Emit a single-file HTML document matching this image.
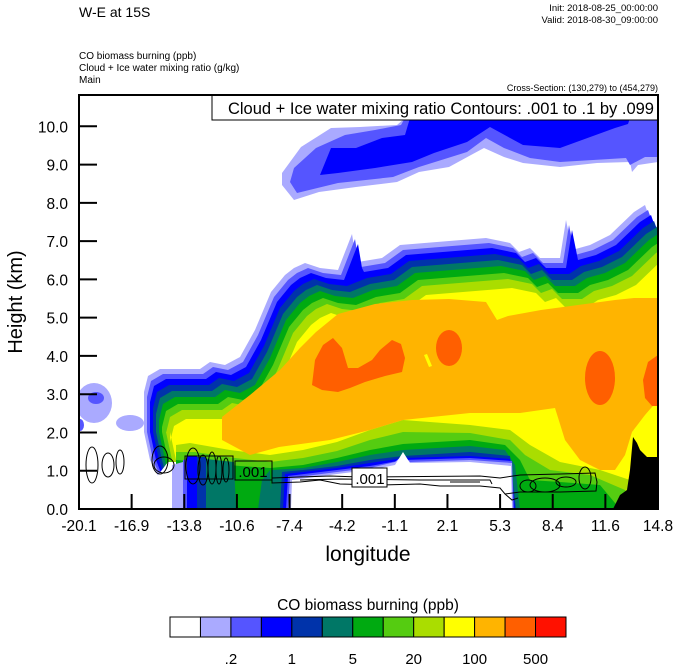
<!DOCTYPE html>
<html><head><meta charset="utf-8"><style>
body{margin:0;background:#fff;}
svg{display:block;font-family:"Liberation Sans",Arial,sans-serif;}
</style></head><body>
<svg id="s" width="674" height="667" viewBox="0 0 674 667" xmlns="http://www.w3.org/2000/svg">
<defs><clipPath id="pc"><rect x="79" y="95" width="579" height="414"/></clipPath></defs>
<rect width="674" height="667" fill="#fff"/>
<g id="plot" clip-path="url(#pc)"></g>
<g id="over"></g>
<text x="79" y="17" font-size="14">W-E at 15S</text>
<text x="658" y="11" font-size="9.5" text-anchor="end">Init: 2018-08-25_00:00:00</text>
<text x="658" y="23" font-size="9.5" text-anchor="end">Valid: 2018-08-30_09:00:00</text>
<text x="79" y="59" font-size="10">CO biomass burning   (ppb)</text>
<text x="79" y="71" font-size="10">Cloud + Ice water mixing ratio   (g/kg)</text>
<text x="79" y="83" font-size="10">Main</text>
<text x="658" y="91" font-size="9" text-anchor="end">Cross-Section: (130,279) to (454,279)</text>
<rect x="212" y="95" width="446" height="25" fill="#fff" stroke="#000" stroke-width="1"/>
<text x="654" y="114" font-size="16.5" text-anchor="end">Cloud + Ice water mixing ratio Contours: .001 to .1 by .099</text>
<rect x="79" y="95" width="579" height="414" fill="none" stroke="#000" stroke-width="2"/>
<text transform="translate(22,302) rotate(-90)" font-size="20" text-anchor="middle">Height (km)</text>
<text x="368" y="561" font-size="21" text-anchor="middle">longitude</text>
<text x="368" y="610" font-size="15.5" text-anchor="middle">CO biomass burning  (ppb)</text>
<g id="cb"></g>
</svg>
<script>
const NS="http://www.w3.org/2000/svg";
const plot=document.getElementById('plot'),over=document.getElementById('over'),cbg=document.getElementById('cb');
function el(p,t,a){const e=document.createElementNS(NS,t);for(const k in a)e.setAttribute(k,a[k]);p.appendChild(e);return e;}
function poly(p,pts,fill,extra){const a={points:pts.map(q=>q.join(',')).join(' '),fill:fill};Object.assign(a,extra||{});return el(p,'polygon',a);}
const C=['#ffffff','#aaaaff','#5555ff','#0000ff','#0033aa','#007766','#00aa11','#55cc11','#aadd00','#ffff00','#ffb400','#ff5f00','#ff1100'];
// upper cloud
poly(plot,[[282,185],[282,173],[301,147],[331,128],[360,127],[397,125],[405,118],[700,118],[700,162],[658,162],[638,165],[632,172],[630,162],[597,163],[560,167],[523,163],[504,157],[484,148],[471,155],[449,167],[419,172],[397,182],[356,187],[319,192],[294,200]],C[1]);
poly(plot,[[290,182],[294,168],[316,148],[345,135],[375,130],[401,125],[405,118],[700,118],[700,157],[658,157],[645,157],[630,165],[626,158],[560,162],[530,158],[504,148],[486,138],[467,152],[419,167],[393,177],[338,183],[297,193]],C[2]);
poly(plot,[[320,175],[331,148],[356,148],[382,138],[405,135],[410,118],[630,118],[628,124],[615,128],[560,148],[523,145],[490,127],[467,142],[434,153],[412,162],[375,168],[338,173]],C[3]);
// plume
const base=[[144,392],[148,376],[160,369],[200,369],[210,362],[225,365],[240,357],[255,330],[271,292],[285,275],[294,268],[305,263],[320,268],[338,270],[345,252,1],[352,234,1],[356,258,1],[358,262],[382,258],[400,245],[486,238],[510,243],[519,252],[530,248],[540,258],[560,258],[566,220,1],[572,250],[590,245],[610,235],[634,212],[645,205],[652,225],[680,235]];
const sh=[[0,0],[3,5],[6,10],[9,16],[12,22],[15,28],[18,35],[22,41],[26,50]];
for(let k=0;k<9;k++){const[dx,dy]=sh[k];
 const pts=[[175,509],[150+dx,460],[144+dx,432]];
 base.forEach(p=>{if(p[2]&&k>2)return;pts.push([p[0]+dx,p[1]+dy]);});
 pts.push([700,509]);poly(plot,pts,C[k+1]);}
// hole nest
const H=[
 [8,[[176,509],[176,445],[190,443],[230,450],[270,455],[303,450],[337,442],[370,430],[403,420],[470,425],[510,430],[530,445],[560,462],[600,470],[630,480],[640,509]]],
 [7,[[176,509],[176,452],[195,452],[235,458],[270,462],[303,458],[337,451],[370,440],[403,432],[470,433],[510,440],[525,455],[550,470],[590,475],[625,490],[635,509]]],
 [6,[[176,509],[176,460],[240,466],[270,468],[303,465],[337,458],[370,450],[403,444],[470,440],[505,445],[520,460],[530,480],[560,482],[600,485],[620,509]]],
 [5,[[270,509],[272,470],[303,468],[337,462],[370,455],[403,450],[470,446],[505,450],[515,465],[520,509]]],
 [4,[[280,509],[282,472],[303,470],[337,466],[370,460],[403,456],[470,452],[510,456],[516,509]]],
 [3,[[283,509],[285,474],[337,468],[370,463],[403,458],[470,456],[510,459],[515,509]]],
 [2,[[286,509],[288,476],[337,470],[370,466],[403,460],[470,458],[512,461],[514,509]]],
 [1,[[288,509],[290,478],[337,472],[370,468],[395,462],[403,455],[410,462],[470,460],[512,463],[513,509]]],
 [0,[[291,509],[292,480],[337,474],[370,470],[395,465],[403,452],[410,463],[470,462],[511,466],[512,509]]]];
H.forEach(h=>poly(plot,h[1],C[h[0]]));
poly(plot,[[160,509],[158,475],[168,462],[176,462],[176,509]],C[0]);
poly(plot,[[172,509],[172,465],[183,462],[183,509]],C[1]);
poly(plot,[[183,509],[183,460],[187,459],[187,509]],C[2]);
poly(plot,[[187,509],[187,456],[197,456],[197,509]],C[3]);
poly(plot,[[197,509],[197,457],[206,457],[206,509]],C[4]);
poly(plot,[[206,509],[206,459],[234,462],[236,509]],C[5]);
poly(plot,[[258,509],[262,480],[270,470],[272,509]],C[5]);
// orange
poly(plot,[[222,417],[250,395],[280,370],[300,348],[316,332],[338,314],[375,304],[412,300],[449,299],[486,302],[497,320],[508,316],[541,310],[578,305],[615,300],[634,298],[680,298],[680,400],[658,400],[645,415],[632,432],[625,455],[615,470],[600,470],[580,460],[565,440],[555,408],[520,413],[470,413],[403,420],[370,430],[330,440],[279,447],[250,455],[222,440]],C[10]);
poly(plot,[[312,385],[315,360],[323,345],[333,338],[342,348],[348,368],[358,368],[372,360],[380,350],[392,340],[401,344],[405,358],[402,372],[385,376],[365,382],[350,388],[338,392],[322,390]],C[11]);
el(plot,'ellipse',{cx:449,cy:348,rx:13,ry:18,fill:C[11]});
el(plot,'ellipse',{cx:600,cy:378,rx:15,ry:27,fill:C[11]});
poly(plot,[[658,355],[648,362],[643,380],[645,398],[652,406],[658,406]],C[11]);
poly(plot,[[424,355],[427,354],[432,366],[429,367]],C[9]);
el(plot,'ellipse',{cx:94,cy:403,rx:18,ry:20,fill:C[1]});
el(plot,'ellipse',{cx:96,cy:398,rx:8,ry:6,fill:C[2]});
el(plot,'ellipse',{cx:130,cy:423,rx:14,ry:8,fill:C[1]});
el(plot,'ellipse',{cx:80,cy:425,rx:4,ry:6,fill:C[2]});
poly(plot,[[613,509],[620,495],[627,490],[630,470],[633,437],[637,443],[640,450],[647,457],[660,457],[660,509]],'#000');
const cs={fill:'none',stroke:'#000','stroke-width':1};
el(plot,'path',Object.assign({d:'M272,478 L300,477 L330,476 L360,477 L480,476 L500,478 L520,475 L560,474 L595,473 L597,482 L596,491 L560,492 L520,492 L505,494 L500,488 L480,486 L440,486 L420,484 L380,485 L340,484 L320,480 L300,482 L272,483 Z'},cs));
el(plot,'path',Object.assign({d:'M300,480 L340,479 L420,480 L490,480 L492,484 M450,482 L480,482 M505,494 L512,500 L518,498'},cs));
[[545,485,15,7],[566,482,10,5],[585,478,6,11],[528,486,8,6],[92,465,6,18],[108,465,6,12],[120,462,4,12],[160,460,8,14],[164,465,10,8],[193,466,7,18],[203,470,5,15],[212,468,4,16],[219,470,3,14],[226,470,3,12]].forEach(e=>el(plot,'ellipse',Object.assign({cx:e[0],cy:e[1],rx:e[2],ry:e[3]},cs)));
el(plot,'rect',Object.assign({x:185,y:456,width:48,height:23},cs));
el(plot,'rect',{x:235,y:461,width:37,height:19,fill:'none',stroke:'#000','stroke-width':1});
el(plot,'text',{x:253,y:477,'font-size':15,'text-anchor':'middle'}).textContent='.001';
el(plot,'rect',{x:352,y:468,width:35,height:19,fill:'#fff',stroke:'#000','stroke-width':1});
el(plot,'text',{x:370,y:484,'font-size':15,'text-anchor':'middle'}).textContent='.001';
const xl=['-20.1','-16.9','-13.8','-10.6','-7.4','-4.2','-1.1','2.1','5.3','8.4','11.6','14.8'];
xl.forEach((t,i)=>{const x=79+i*579/11;el(over,'line',{x1:x,y1:509,x2:x,y2:494,stroke:'#000','stroke-width':2});
 el(over,'text',{x:x,y:531,'font-size':15.5,'text-anchor':'middle'}).textContent=t;});
for(let k=0;k<=10;k++){const y=509-k*38.27;el(over,'line',{x1:79,y1:y,x2:97,y2:y,stroke:'#000','stroke-width':2});
 el(over,'text',{x:68,y:y+6,'font-size':15.5,'text-anchor':'end'}).textContent=k.toFixed(1);}
const bw=(566-170)/13;
C.forEach((c,i)=>el(cbg,'rect',{x:170+i*bw,y:617,width:bw,height:20,fill:c,stroke:'#000','stroke-width':1}));
['.2','1','5','20','100','500'].forEach((t,i)=>el(cbg,'text',{x:170+(2+2*i)*bw,y:664,'font-size':15,'text-anchor':'middle'}).textContent=t);
</script>
</body></html>
